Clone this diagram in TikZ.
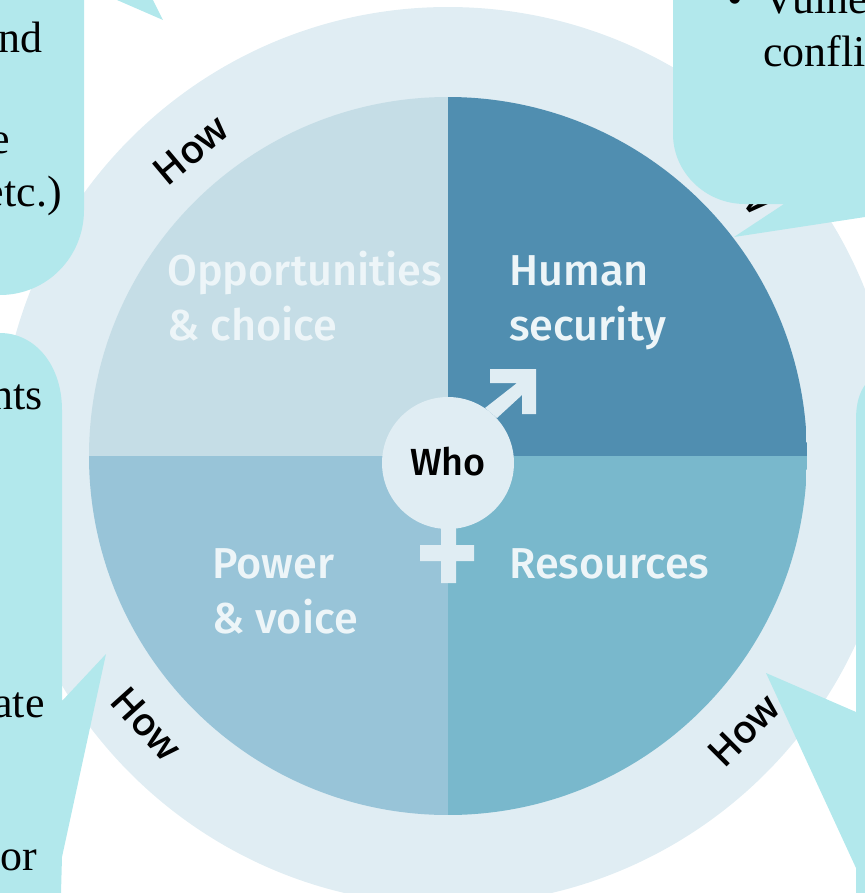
\documentclass[tikz,border=0pt]{standalone}
\usepackage{fontspec}
\setmainfont{Liberation Serif}
\newfontfamily\dinfont[UprightFont=* Medium]{Fira Sans}
\newfontfamily\howfont[UprightFont=* Semibold]{Open Sans}
\definecolor{ringblue}{HTML}{E0EDF3}
\definecolor{oppblue}{HTML}{C5DDE6}
\definecolor{humanblue}{HTML}{508EB0}
\definecolor{powerblue}{HTML}{98C4D8}
\definecolor{resblue}{HTML}{79B8CC}
\definecolor{calloutblue}{HTML}{B2E8EC}
\definecolor{paletext}{HTML}{EDF5F8}
\begin{document}
\begin{tikzpicture}[x=0.02cm, y=-0.02cm,
    quadlabel/.style={font=\dinfont\fontsize{24.6}{31.3}\selectfont, text=paletext, inner sep=0pt, anchor=base west, align=left},
    howlabel/.style={font=\howfont\fontsize{22}{26}\selectfont, inner sep=0pt},
    calltext/.style={font=\fontsize{25}{30}\selectfont, inner sep=0pt, anchor=base east},
    callout/.style={fill=calloutblue}]
    \useasboundingbox (0,0) rectangle (865,893);

    % Ring and quadrants
    \fill[ringblue] (448,456) circle [radius=449];
    \begin{scope}
        \clip (448,456) circle [radius=359];
        \fill[oppblue] (89,97) rectangle (448,456);
        \fill[humanblue] (448,97) rectangle (807,456);
        \fill[powerblue] (89,456) rectangle (448,815);
        \fill[resblue] (448,456) rectangle (807,815);
    \end{scope}

    % Quadrant labels
    \node[quadlabel] (opp) at (167,285) {Opportunities};
    \node[quadlabel] (choice) at (167,340) {\& choice};
    \node[quadlabel] (human) at (509,285) {Human};
    \node[quadlabel] (security) at (509,340) {security};
    \node[quadlabel] (power) at (212,578) {Power};
    \node[quadlabel] (voice) at (212,633) {\& voice};
    \node[quadlabel] (res) at (509,578) {Resources};

    % Gender symbol
    \fill[ringblue] (490,369) -- (536,369) -- (536,414) -- (522,414) -- (522,395)
        -- (497,418) -- (485,408) -- (517,383) -- (490,383) -- cycle;
    \fill[ringblue] (441,520) -- (456,520) -- (456,545) -- (474,545) -- (474,561) -- (456,561)
        -- (456,583) -- (441,583) -- (441,561) -- (420,561) -- (420,545) -- (441,545) -- cycle;
    \node[circle, fill=ringblue, minimum size=2.64cm, inner sep=0pt] (who) at (448,463) {};
    \node[font=\dinfont\fontsize{21.5}{25}\selectfont, inner sep=0pt] (wholabel) at (448,462) {Who};

    % How labels around the ring
    \node[howlabel, rotate=40] (how1) at (191,150) {How};
    \node[howlabel, rotate=-50] (how2) at (737,177) {How};
    \node[howlabel, rotate=-48] (how3) at (147,724) {How};
    \node[howlabel, rotate=45] (how4) at (744,730) {How};

    % Callouts, cut off by the page
    \fill[callout] (117,0) -- (163,20) -- (153,0) -- cycle;
    \fill[callout] (0,0) -- (84,0) -- (84,210) .. controls (84,257) and (47,295) .. (0,295) -- cycle;
    \fill[callout] (0,333) .. controls (35,333) and (62,365) .. (62,410) -- (62,701) -- (106,654)
        -- (62,857) -- (61,893) -- (0,893) -- cycle;
    \fill[callout] (673,0) -- (865,0) -- (865,217) -- (734,237) -- (784,204) -- (745,204)
        .. controls (705,204) and (673,172) .. (673,134) -- cycle;
    \fill[callout] (865,385) .. controls (860,392) and (856,402) .. (856,420) -- (856,712) -- (766,673)
        -- (856,868) -- (856,893) -- (865,893) -- cycle;

    % Callout texts
    \node[calltext] (nd) at (43,52) {nd};
    \node[calltext] (e) at (10,153) {e};
    \node[calltext] (etc) at (62,206) {etc.)};
    \node[calltext] (nts) at (43,409) {nts};
    \node[calltext] (ate) at (45,717) {ate};
    \node[calltext] (for) at (37,870) {for};
    \node[calltext, anchor=base west] (vuln) at (763,13) {Vulne};
    \node[calltext, anchor=base west] (confl) at (763,66) {conflic};
    \node[calltext, anchor=base west] (bullet) at (727,13) {•};
\end{tikzpicture}
\end{document}
